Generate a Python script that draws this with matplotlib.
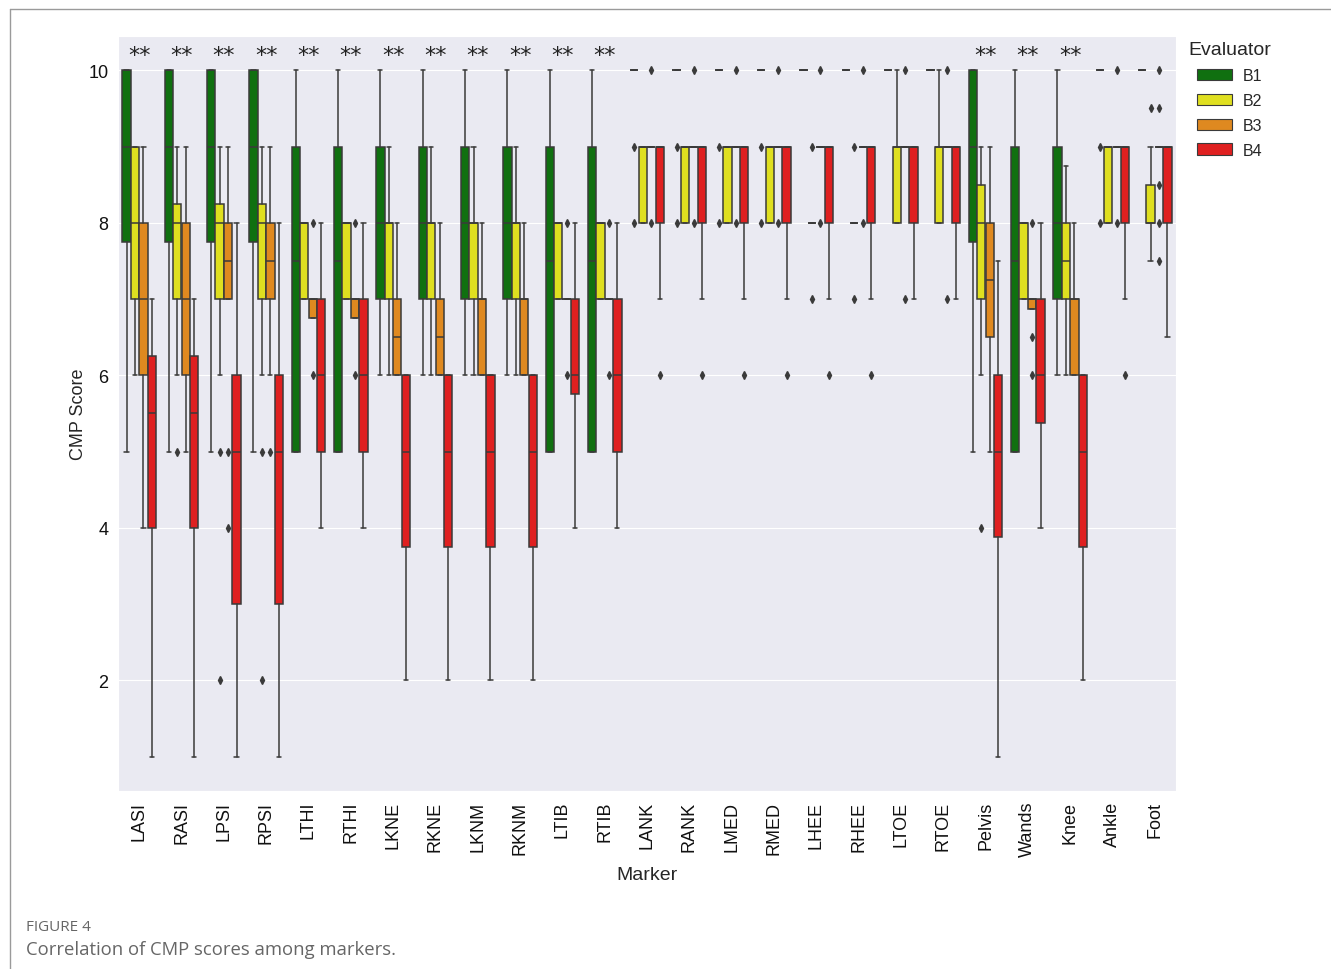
import numpy as np
import matplotlib
matplotlib.use("Agg")
import matplotlib.pyplot as plt
import seaborn as sns
from matplotlib.patches import Patch
from matplotlib.lines import Line2D

sns.set_style("darkgrid")
plt.rcParams['font.family'] = ['Liberation Sans', 'DejaVu Sans']

markers = ['LASI', 'RASI', 'LPSI', 'RPSI', 'LTHI', 'RTHI', 'LKNE', 'RKNE', 'LKNM', 'RKNM',
           'LTIB', 'RTIB', 'LANK', 'RANK', 'LMED', 'RMED', 'LHEE', 'RHEE', 'LTOE', 'RTOE',
           'Pelvis', 'Wands', 'Knee', 'Ankle', 'Foot']
evaluators = ['B1', 'B2', 'B3', 'B4']
significant = ['LASI', 'RASI', 'LPSI', 'RPSI', 'LTHI', 'RTHI', 'LKNE', 'RKNE', 'LKNM', 'RKNM',
               'LTIB', 'RTIB', 'Pelvis', 'Wands', 'Knee']

# box statistics, one entry per marker
b1_q1 = [7.75, 7.75, 7.75, 7.75, 5, 5, 7, 7, 7, 7, 5, 5, 10, 10, 10, 10, 10, 10, 10, 10, 7.75, 5, 7, 10, 10]
b1_med = [9, 9, 9, 9, 7.5, 7.5, 8, 8, 8, 8, 7.5, 7.5, 10, 10, 10, 10, 10, 10, 10, 10, 9, 7.5, 8, 10, 10]
b1_q3 = [10, 10, 10, 10, 9, 9, 9, 9, 9, 9, 9, 9, 10, 10, 10, 10, 10, 10, 10, 10, 10, 9, 9, 10, 10]
b1_lo = [5, 5, 5, 5, 5, 5, 6, 6, 6, 6, 5, 5, 10, 10, 10, 10, 10, 10, 10, 10, 5, 5, 6, 10, 10]
b1_hi = [10, 10, 10, 10, 10, 10, 10, 10, 10, 10, 10, 10, 10, 10, 10, 10, 10, 10, 10, 10, 10, 10, 10, 10, 10]
b1_out = [[], [], [], [], [], [], [], [], [], [], [], [], [9, 8], [9, 8], [9, 8], [9, 8],
          [], [], [], [], [], [], [], [9, 8], []]

b2_q1 = [7, 7, 7, 7, 7, 7, 7, 7, 7, 7, 7, 7, 8, 8, 8, 8, 8, 8, 8, 8, 7, 7, 7, 8, 8]
b2_med = [8, 8, 8, 8, 8, 8, 8, 8, 8, 8, 8, 8, 9, 9, 9, 9, 8, 8, 9, 9, 8, 8, 7.5, 9, 8]
b2_q3 = [9, 8.25, 8.25, 8.25, 8, 8, 8, 8, 8, 8, 8, 8, 9, 9, 9, 9, 8, 8, 9, 9, 8.5, 8, 8, 9, 8.5]
b2_lo = [6, 6, 6, 6, 7, 7, 6, 6, 6, 6, 7, 7, 8, 8, 8, 8, 8, 8, 8, 8, 6, 7, 6, 8, 7.5]
b2_hi = [9, 9, 9, 9, 8, 8, 9, 9, 9, 9, 8, 8, 9, 9, 9, 9, 8, 8, 10, 10, 9, 8, 8.75, 9, 9]
b2_out = [[], [5], [5, 2], [5, 2], [], [], [], [], [], [], [], [], [], [], [], [],
          [9, 7], [9, 7], [], [], [4], [], [], [], [9.5]]

b3_q1 = [6, 6, 7, 7, 6.75, 6.75, 6, 6, 6, 6, 7, 7, 9, 9, 9, 9, 9, 9, 9, 9, 6.5, 6.875, 6, 9, 9]
b3_med = [7, 7, 7.5, 7.5, 7, 7, 6.5, 6.5, 7, 7, 7, 7, 9, 9, 9, 9, 9, 9, 9, 9, 7.25, 7, 7, 9, 9]
b3_q3 = [8, 8, 8, 8, 7, 7, 7, 7, 7, 7, 7, 7, 9, 9, 9, 9, 9, 9, 9, 9, 8, 7, 7, 9, 9]
b3_lo = [4, 5, 7, 6, 6.75, 6.75, 6, 6, 6, 6, 7, 7, 9, 9, 9, 9, 9, 9, 9, 9, 5, 6.875, 6, 9, 9]
b3_hi = [9, 9, 9, 9, 7, 7, 8, 8, 8, 8, 7, 7, 9, 9, 9, 9, 9, 9, 9, 9, 9, 7, 8, 9, 9]
b3_out = [[], [], [5, 4], [5], [8, 6], [8, 6], [], [], [], [], [8, 6], [8, 6],
          [10, 8], [10, 8], [10, 8], [10, 8], [10, 8], [10, 8], [10, 7], [10, 7],
          [], [8, 6.5, 6], [], [10, 8], [10, 9.5, 8.5, 8, 7.5]]

b4_q1 = [4, 4, 3, 3, 5, 5, 3.75, 3.75, 3.75, 3.75, 5.75, 5, 8, 8, 8, 8, 8, 8, 8, 8, 3.875, 5.375, 3.75, 8, 8]
b4_med = [5.5, 5.5, 5, 5, 6, 6, 5, 5, 5, 5, 6, 6, 9, 9, 9, 9, 9, 9, 9, 9, 5, 6, 5, 9, 9]
b4_q3 = [6.25, 6.25, 6, 6, 7, 7, 6, 6, 6, 6, 7, 7, 9, 9, 9, 9, 9, 9, 9, 9, 6, 7, 6, 9, 9]
b4_lo = [1, 1, 1, 1, 4, 4, 2, 2, 2, 2, 4, 4, 7, 7, 7, 7, 7, 7, 7, 7, 1, 4, 2, 7, 6.5]
b4_hi = [7, 7, 8, 8, 8, 8, 6, 6, 6, 6, 8, 8, 9, 9, 9, 9, 9, 9, 9, 9, 7.5, 8, 6, 9, 9]
b4_out = [[], [], [], [], [], [], [], [], [], [], [], [], [6], [6], [6], [6], [6], [6],
          [], [], [], [], [], [6], []]

colors = ['#107010', '#dfdf20', '#df8920', '#df2020']
line_gray = '#3a3a3a'

stats_by_eval = [
    (b1_q1, b1_med, b1_q3, b1_lo, b1_hi, b1_out),
    (b2_q1, b2_med, b2_q3, b2_lo, b2_hi, b2_out),
    (b3_q1, b3_med, b3_q3, b3_lo, b3_hi, b3_out),
    (b4_q1, b4_med, b4_q3, b4_lo, b4_hi, b4_out),
]

fig = plt.figure(figsize=(13.31, 9.70), dpi=100)
ax = fig.add_axes([0.0887, 0.1835, 0.7948, 0.7784])

x = np.arange(len(markers))
n_hue = len(evaluators)
box_w = 0.8 / n_hue
for k, (q1, med, q3, lo, hi, out) in enumerate(stats_by_eval):
    stats = []
    for i in range(len(markers)):
        stats.append(dict(q1=q1[i], med=med[i], q3=q3[i], whislo=lo[i], whishi=hi[i],
                          fliers=out[i], label=markers[i]))
    pos = x - 0.4 + box_w * (k + 0.5)
    ax.bxp(stats, positions=pos, widths=box_w * 0.98, patch_artist=True, manage_ticks=False,
           boxprops=dict(facecolor=colors[k], edgecolor=line_gray, linewidth=1.1),
           whiskerprops=dict(color=line_gray, linewidth=1.1),
           capprops=dict(color=line_gray, linewidth=1.1),
           medianprops=dict(color=line_gray, linewidth=1.1),
           flierprops=dict(marker='d', markersize=4, markerfacecolor=line_gray,
                           markeredgecolor=line_gray, linestyle='none'))

for name in significant:
    ax.text(markers.index(name), 10.2, '**', ha='center', va='center', fontsize=16,
            family=['DejaVu Sans'], color='#222222')

ax.set_xlim(-0.5, len(markers) - 0.5)
ax.set_ylim(0.55, 10.45)
ax.set_yticks([2, 4, 6, 8, 10])
ax.set_xticks(x)
ax.set_xticklabels(markers, rotation=90)
ax.grid(False, axis='x')
ax.tick_params(axis='both', labelsize=13, colors='#111111')
ax.set_xlabel('Marker', fontsize=14, labelpad=7)
ax.set_ylabel('CMP Score', fontsize=13, labelpad=1)

handles = [Patch(facecolor=c, edgecolor=line_gray, linewidth=0.8) for c in colors]
leg = ax.legend(handles, evaluators, title='Evaluator', loc='upper left',
                bbox_to_anchor=(0.998, 1.012), frameon=False, fontsize=11.5,
                title_fontsize=14, handlelength=2.2, handleheight=0.75, labelspacing=0.62,
                handletextpad=0.7)

# publication frame and caption
fig.add_artist(Line2D([0.0075, 1.0], [0.9897, 0.9897], color='#9a9a9a', linewidth=1))
fig.add_artist(Line2D([0.0075, 0.0075], [0.0, 0.9897], color='#9a9a9a', linewidth=1))
fig.text(0.0195, 0.044, 'FIGURE 4', fontsize=11, color='#666666', family=['Open Sans'],
         va='center')
fig.text(0.0195, 0.021, 'Correlation of CMP scores among markers.', fontsize=13.3,
         color='#666666', family=['Open Sans'], va='center')

fig.savefig('out.png', dpi=100)
